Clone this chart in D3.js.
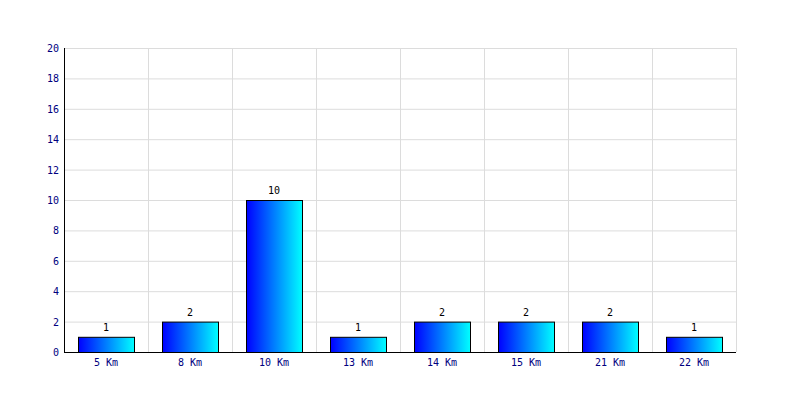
<!DOCTYPE html>
<html><head><meta charset="utf-8">
<script src="https://cdn.jsdelivr.net/npm/d3@7"></script>
<style>body{margin:0;background:#fff}</style>
</head><body>
<svg id="c" width="800" height="400"></svg>
<script>
const categories = ["5 Km","8 Km","10 Km","13 Km","14 Km","15 Km","21 Km","22 Km"];
const values = [1,2,10,1,2,2,2,1];
const yTicks = [0,2,4,6,8,10,12,14,16,18,20];

const m = {left:64, right:64, top:48, bottom:48};
const W = 800, H = 400;
const svg = d3.select("#c");
const x = d3.scaleBand().domain(categories).range([m.left, W-m.right]).paddingInner(1/3).paddingOuter(1/6);
const xb = d3.scaleBand().domain(categories).range([m.left, W-m.right]);
const y = d3.scaleLinear().domain([0,20]).range([H-m.bottom, m.top]);

const defs = svg.append("defs");
const g = defs.append("linearGradient").attr("id","grad").attr("x1","0").attr("x2","1").attr("y1","0").attr("y2","0");
g.append("stop").attr("offset","0").attr("stop-color","#0000ff");
g.append("stop").attr("offset","1").attr("stop-color","#00ffff");

// grid
svg.append("g").selectAll("line").data(yTicks.filter(d=>d>0)).join("line")
  .attr("x1",m.left).attr("x2",W-m.right).attr("y1",d=>y(d)+0.5).attr("y2",d=>y(d)+0.5)
  .attr("stroke","#dcdcdc").attr("stroke-width",1);
svg.append("g").selectAll("line").data(categories).join("line")
  .attr("x1",d=>xb(d)+xb.bandwidth()+0.5).attr("x2",d=>xb(d)+xb.bandwidth()+0.5)
  .attr("y1",m.top).attr("y2",H-m.bottom)
  .attr("stroke","#dcdcdc").attr("stroke-width",1);

// bars
svg.append("g").selectAll("rect").data(values).join("rect")
  .attr("x",(d,i)=>Math.round(x(categories[i]))+0.5)
  .attr("y",d=>y(d)+0.5)
  .attr("width",Math.round(x.bandwidth()))
  .attr("height",d=>y(0)-y(d))
  .attr("fill","url(#grad)").attr("stroke","#000").attr("stroke-width",1);

// value labels
svg.append("g").selectAll("text").data(values).join("text")
  .attr("x",(d,i)=>x(categories[i])+x.bandwidth()/2)
  .attr("y",d=>y(d)-6)
  .attr("text-anchor","middle")
  .attr("font-family","DejaVu Sans Mono, monospace").attr("font-size",10).attr("fill","#000")
  .text(d=>d);

// axes lines
svg.append("line").attr("x1",m.left+0.5).attr("x2",m.left+0.5).attr("y1",m.top).attr("y2",H-m.bottom+1).attr("stroke","#000");
svg.append("line").attr("x1",m.left).attr("x2",W-m.right).attr("y1",H-m.bottom+0.5).attr("y2",H-m.bottom+0.5).attr("stroke","#000");

// y labels
svg.append("g").selectAll("text").data(yTicks).join("text")
  .attr("x",m.left-5).attr("y",d=>y(d)+4)
  .attr("text-anchor","end")
  .attr("font-family","DejaVu Sans Mono, monospace").attr("font-size",10).attr("fill","#000080")
  .text(d=>d);

// x labels
svg.append("g").selectAll("text").data(categories).join("text")
  .attr("x",d=>xb(d)+xb.bandwidth()/2).attr("y",H-m.bottom+14)
  .attr("text-anchor","middle")
  .attr("font-family","DejaVu Sans Mono, monospace").attr("font-size",10).attr("fill","#000080")
  .text(d=>d);
</script>
</body></html>
